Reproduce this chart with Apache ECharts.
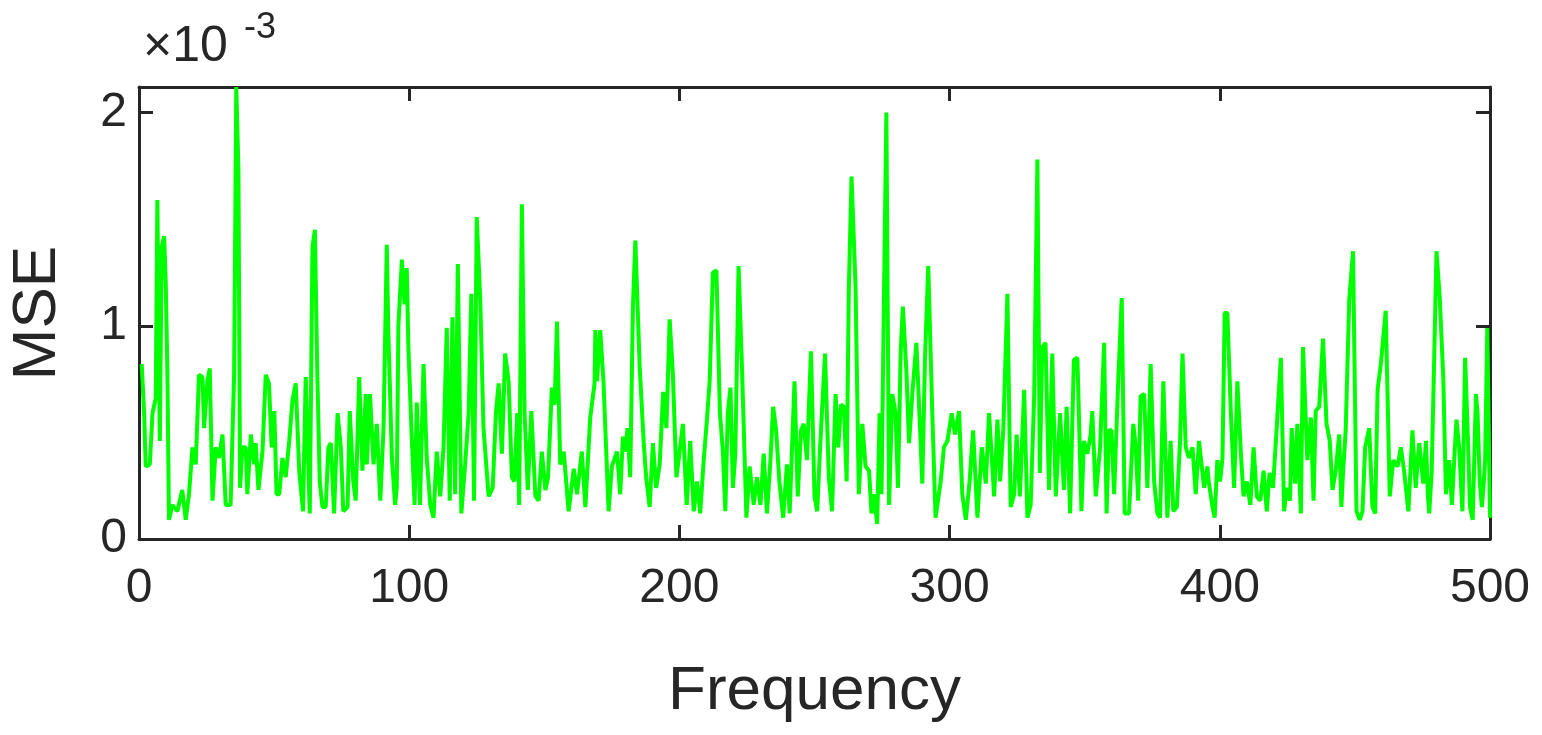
<!DOCTYPE html>
<html><head><meta charset="utf-8">
<script src="https://cdn.jsdelivr.net/npm/echarts@6/dist/echarts.min.js"></script>
<style>html,body{margin:0;padding:0;background:#fff}#c{width:1542px;height:735px}</style>
</head><body><div id="c"></div>
<script>
const xTicks = [0,100,200,300,400,500];
const yTicks = [0,1,2];
const freq = [1,1.9,2.5,4,5,6.2,6.8,7.7,8.4,9.3,9.9,10.5,11.1,12.3,14.2,16,17.3,18.5,19.8,21,22.2,23.5,24.1,25.3,26.2,27.2,28.4,29.6,30.9,32.1,33.9,35.2,36,36.8,37.4,38.3,39.5,40.1,41.4,42.6,43.2,44.2,45.7,46.9,48.1,49.1,50.1,50.9,51.9,53.1,54.3,55.6,56.8,58,59.3,60.7,61.7,62.3,63.2,64.2,65.1,66,66.9,67.9,69.1,70.1,71,72.2,73.5,74.7,75.6,77.2,78,79.3,80.2,81.5,82.7,83.9,84.3,85.5,86.8,88,89.3,90.5,91.7,92.3,93.6,94.8,95.4,96,97.3,98.3,99.1,99.7,101,102,102.8,104,105.3,106.5,107.8,109,110.2,111.5,112.7,113.9,115,116,117,118,119.3,120.7,122,123,124,125,126.3,127.5,129.4,130.9,132.1,133.1,134.3,135.5,136.8,138,138.9,140,140.7,141.7,142.7,143.9,145.2,146.7,147.9,149.1,150.4,151.4,152.8,153.8,154.7,155.9,157.2,159,160.9,162.1,163.9,165.2,167,168.6,168.9,169.5,170.7,171.9,173.8,175,176.9,178.1,179.1,180,180.8,181.8,182.8,183.7,185.3,186.8,187.7,189,190.2,191.4,192.7,194,195.2,196.4,197.6,198.9,200.1,201.3,202.7,204,205.3,206.5,207.7,209,210.2,211.2,212.4,213.7,215,216.1,217,217.9,218.9,219.8,220.7,221.9,223.2,224.8,226,227.5,228.7,230,231.2,232.4,233.7,234.7,235.8,237,238.4,239.8,240.8,242.6,243.8,245,246,247.2,248.7,250,251,252,253.9,255.3,256.5,257.8,258.8,259.8,260.9,261.9,262.7,263.7,265.2,266.4,267.7,268.9,270.2,271.1,272,273.2,274.1,274.8,275.7,276.6,277.6,278.8,280,280.9,281.9,282.7,284,285,286.2,287.7,288.9,289.9,290.9,292.1,293.6,294.8,296.7,297.9,299.2,300.8,302,303.5,304.7,306,307.4,308.7,310.3,311.9,313.4,314.6,316.5,317.7,318.7,319.9,321.4,322.6,323.9,324.8,326,327.6,328.8,330,331.3,332.5,333.4,334.3,335.5,336.8,338,339.3,340.9,342.3,343.3,344.6,346,347.3,348.8,349.7,351,352.2,352.8,354.1,355.7,357.2,358.1,359,359.9,360.9,362.4,363.7,364.8,366.4,368,368.9,369.8,370.7,372,373.2,374.4,375.7,376.9,377.9,379.1,380.6,381.8,382.8,384.1,385.3,386.2,387.4,388.6,389.9,391.1,392.3,394.2,395.4,396,397.3,398.1,399.1,400.1,401,401.8,402.8,404.1,405.3,406.5,407.8,408.8,410,411.3,412.5,413.7,415,416.2,417.4,418.4,419.7,421,422.6,423.8,424.8,426,426.6,427.9,428.7,430,430.8,432.4,433.7,434.7,435.5,436.8,438.2,439.5,440.7,441.7,442.9,444.2,445,445.6,446.6,447.9,449.3,450.6,451.8,452.8,453.8,455.3,456.5,457.5,458.4,459.6,461.4,462.9,464.2,465.8,467,468.2,469.8,471.3,472.5,473.8,475.3,476.3,477,477.5,478.4,479.3,480.2,481.4,482.7,483.7,484.9,485.9,486.8,487.6,488.6,489.8,490.8,491.7,492.6,493.6,494.8,495.4,496.2,497,497.5,498.2,499,500];
const mse = [0.82,0.59,0.34,0.35,0.59,0.66,1.59,0.46,1.37,1.42,1.2,0.79,0.09,0.16,0.13,0.23,0.09,0.21,0.43,0.35,0.77,0.76,0.52,0.74,0.8,0.18,0.43,0.38,0.49,0.16,0.16,0.77,2.12,1.73,0.24,0.43,0.43,0.21,0.49,0.35,0.45,0.23,0.41,0.77,0.73,0.43,0.6,0.21,0.21,0.38,0.29,0.46,0.65,0.73,0.32,0.13,0.76,0.51,0.12,1.37,1.45,0.77,0.27,0.15,0.15,0.43,0.45,0.12,0.59,0.43,0.13,0.15,0.6,0.27,0.18,0.76,0.32,0.68,0.35,0.68,0.35,0.54,0.18,0.52,1.38,0.96,0.38,0.16,0.24,1.0,1.31,1.1,1.27,0.9,0.46,0.16,0.64,0.16,0.82,0.38,0.16,0.1,0.41,0.2,0.43,0.99,0.18,1.04,0.21,1.29,0.12,0.35,0.59,1.15,0.18,1.51,1.12,0.52,0.2,0.24,0.59,0.73,0.4,0.87,0.74,0.29,0.27,0.59,0.16,1.57,0.59,0.23,0.6,0.2,0.18,0.41,0.23,0.29,0.71,0.63,1.02,0.35,0.41,0.13,0.33,0.21,0.41,0.15,0.57,0.73,0.98,0.74,0.98,0.74,0.13,0.34,0.41,0.21,0.48,0.41,0.52,0.29,1.09,1.4,0.81,0.45,0.29,0.15,0.45,0.24,0.35,0.69,0.52,1.03,0.77,0.29,0.41,0.54,0.16,0.46,0.13,0.27,0.12,0.37,0.56,0.74,1.25,1.26,0.59,0.41,0.13,0.59,0.71,0.24,0.4,1.28,0.79,0.1,0.34,0.16,0.29,0.16,0.4,0.12,0.37,0.62,0.51,0.27,0.1,0.35,0.12,0.74,0.2,0.51,0.54,0.37,0.88,0.2,0.13,0.41,0.87,0.29,0.13,0.68,0.43,0.63,0.62,0.27,1.17,1.7,1.18,0.21,0.54,0.34,0.32,0.12,0.21,0.07,0.59,0.21,1.13,2.0,0.16,0.68,0.59,0.24,0.88,1.09,0.79,0.45,0.68,0.92,0.57,0.26,0.85,1.28,0.59,0.1,0.27,0.43,0.46,0.59,0.49,0.6,0.21,0.09,0.27,0.51,0.1,0.43,0.26,0.59,0.2,0.56,0.27,0.52,1.15,0.15,0.21,0.49,0.2,0.7,0.1,0.16,0.67,1.78,0.31,0.9,0.92,0.23,0.87,0.2,0.59,0.23,0.62,0.12,0.84,0.85,0.13,0.46,0.4,0.49,0.6,0.2,0.43,0.92,0.12,0.51,0.51,0.21,0.74,1.13,0.12,0.12,0.54,0.43,0.18,0.67,0.68,0.24,0.82,0.27,0.12,0.1,0.74,0.1,0.46,0.13,0.15,0.46,0.87,0.43,0.38,0.43,0.21,0.46,0.24,0.34,0.26,0.15,0.1,0.37,0.27,0.38,1.06,1.06,0.59,0.24,0.74,0.4,0.2,0.27,0.16,0.43,0.2,0.18,0.32,0.13,0.31,0.24,0.51,0.85,0.13,0.24,0.18,0.52,0.26,0.54,0.12,0.9,0.37,0.57,0.18,0.6,0.62,0.94,0.54,0.46,0.23,0.32,0.49,0.15,0.31,0.51,1.12,1.35,0.13,0.09,0.13,0.43,0.52,0.15,0.12,0.7,0.82,1.07,0.2,0.37,0.34,0.43,0.32,0.13,0.51,0.24,0.45,0.26,0.46,0.21,0.12,0.31,0.82,1.35,1.13,0.76,0.21,0.37,0.16,0.38,0.56,0.43,0.13,0.85,0.52,0.15,0.09,0.68,0.59,0.27,0.15,0.23,0.37,0.99,0.1,0.43,0.4];
const pts = freq.map((f,i)=>[f, mse[Math.min(i, mse.length-1)]]);
const chart = echarts.init(document.getElementById('c'));
const ax = '#262626', font = 'Liberation Sans, Arial, sans-serif';
function xAx(extra){return Object.assign({type:'value',min:0,max:500,interval:100,splitLine:{show:false},
  axisLine:{show:true,onZero:false,lineStyle:{color:ax,width:3}},
  axisTick:{show:true,inside:true,length:14,customValues:xTicks,lineStyle:{color:ax,width:3}}},extra);}
function yAx(extra){return Object.assign({type:'value',min:0,max:2.12,interval:1,splitLine:{show:false},
  axisLine:{show:true,onZero:false,lineStyle:{color:ax,width:3}},
  axisTick:{show:true,inside:true,length:14,customValues:yTicks,lineStyle:{color:ax,width:3}}},extra);}
chart.setOption({
  animation:false,
  grid:{left:139,right:52,top:87,bottom:196,containLabel:false,outerBoundsMode:'none'},
  xAxis:[xAx({position:'bottom',name:'Frequency',nameLocation:'middle',nameGap:122,
    nameTextStyle:{fontSize:62,color:ax,fontFamily:font},
    axisLabel:{fontSize:48,color:ax,fontFamily:font,margin:26,customValues:xTicks}}),
    xAx({position:'top',axisLabel:{show:false}})],
  yAxis:[yAx({position:'left',name:'MSE',nameLocation:'middle',nameGap:70,
    nameTextStyle:{fontSize:62,color:ax,fontFamily:font},
    axisLabel:{fontSize:48,color:ax,fontFamily:font,margin:12,customValues:yTicks}}),
    yAx({position:'right',axisLabel:{show:false}})],
  graphic:[{type:'text',left:143,top:22,style:{text:'×10',fontSize:50,fill:ax,fontFamily:font}},
           {type:'text',left:244,top:10,style:{text:'-3',fontSize:36,fill:ax,fontFamily:font}}],
  series:[{type:'line',data:pts,showSymbol:false,lineStyle:{color:'#00ff00',width:4},clip:true}]
});
</script></body></html>
